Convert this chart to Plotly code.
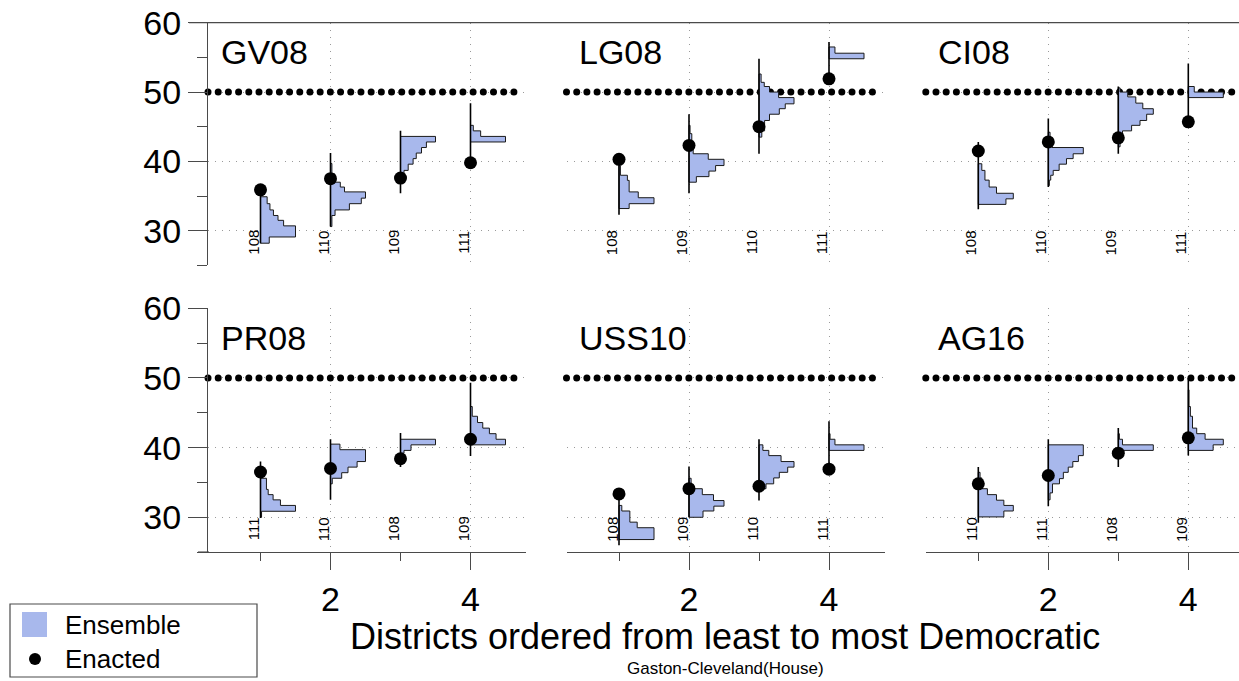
import numpy as np
import plotly.graph_objects as go

# ---------------- data ----------------
panel_names = ["GV08", "LG08", "CI08", "PR08", "USS10", "AG16"]
positions = [1, 2, 3, 4]
hist_scale = 0.5  # width (x units) of the tallest histogram bin

GV08_labels = ["108", "110", "109", "111"]
GV08_enacted = [35.9, 37.5, 37.6, 39.8]
GV08_lo = [28.2, 30.6, 35.4, 39.6]
GV08_hi = [35.5, 41.2, 44.4, 48.4]
GV08_edges = [[28.2, 29.1, 30.7, 31.5, 32.2, 33.0, 33.9, 34.9],
              [30.6, 32.2, 33.0, 33.9, 34.7, 35.6, 36.3, 37.0, 38.2, 39.7],
              [37.7, 38.7, 39.6, 40.4, 41.2, 42.0, 42.8, 43.6],
              [42.8, 43.6, 44.4, 45.2]]
GV08_heights = [[0.25, 1.0, 0.66, 0.5, 0.37, 0.27, 0.19],
                [0.04, 0.13, 0.54, 0.88, 1.0, 0.4, 0.28, 0.12, 0.04],
                [0.1, 0.22, 0.36, 0.45, 0.6, 0.74, 1.0],
                [1.0, 0.29, 0.08]]

LG08_labels = ["108", "109", "110", "111"]
LG08_enacted = [40.3, 42.3, 45.0, 51.9]
LG08_lo = [32.3, 35.4, 41.1, 51.5]
LG08_hi = [40.0, 46.8, 54.8, 57.2]
LG08_edges = [[33.2, 33.9, 34.76, 35.6, 37.26, 38.0, 39.4],
              [37.0, 37.8, 38.6, 39.4, 40.3, 41.1, 42.1, 44.0, 45.2],
              [43.5, 44.4, 45.9, 46.8, 47.6, 48.3, 49.2, 50.0, 50.8, 51.4, 52.6],
              [54.8, 55.6, 56.5]]
LG08_heights = [[0.29, 1.0, 0.55, 0.29, 0.24, 0.04],
                [0.21, 0.57, 0.76, 1.0, 0.55, 0.12, 0.08, 0.03],
                [0.08, 0.16, 0.3, 0.58, 0.75, 1.0, 0.56, 0.3, 0.15, 0.06],
                [1.0, 0.17]]

CI08_labels = ["108", "110", "109", "111"]
CI08_enacted = [41.5, 42.8, 43.4, 45.7]
CI08_lo = [33.1, 36.3, 41.1, 45.5]
CI08_hi = [42.8, 46.2, 50.8, 54.1]
CI08_edges = [[33.8, 34.6, 35.4, 36.3, 37.3, 38.7, 39.66],
              [36.5, 37.3, 38.0, 38.7, 39.6, 40.4, 41.1, 42.0, 42.8, 44.2],
              [42.1, 43.5, 44.4, 45.2, 45.9, 46.8, 47.6, 48.4, 49.3, 50.0, 50.6],
              [49.2, 50.0, 50.8]]
CI08_heights = [[0.79, 1.0, 0.52, 0.31, 0.19, 0.1],
                [0.03, 0.07, 0.14, 0.31, 0.52, 0.71, 1.0, 0.1, 0.05],
                [0.05, 0.12, 0.38, 0.62, 0.81, 1.0, 0.7, 0.5, 0.27, 0.05],
                [1.0, 0.17]]

PR08_labels = ["111", "110", "108", "109"]
PR08_enacted = [36.5, 37.0, 38.4, 41.2]
PR08_lo = [29.9, 32.5, 37.2, 38.8]
PR08_hi = [38.0, 41.2, 42.1, 49.3]
PR08_edges = [[30.0, 30.86, 31.7, 32.5, 33.25, 34.0, 35.6],
              [34.8, 35.6, 36.4, 37.2, 38.0, 39.7, 40.5],
              [39.2, 39.6, 40.4, 41.2],
              [40.4, 41.2, 42.0, 42.8, 43.6, 44.5, 45.9]]
PR08_heights = [[0.03, 1.0, 0.57, 0.36, 0.22, 0.17],
                [0.05, 0.32, 0.5, 0.76, 1.0, 0.27],
                [0.1, 0.3, 1.0],
                [1.0, 0.73, 0.54, 0.35, 0.2, 0.05]]

USS10_labels = ["108", "109", "110", "111"]
USS10_enacted = [33.35, 34.1, 34.45, 36.9]
USS10_lo = [26.0, 30.0, 32.4, 36.5]
USS10_hi = [33.0, 37.3, 41.2, 43.8]
USS10_edges = [[26.8, 28.5, 29.3, 30.9, 31.7],
               [30.0, 30.9, 31.6, 32.4, 33.25, 34.1, 35.6],
               [34.1, 34.8, 35.65, 36.45, 37.2, 38.0, 38.85, 39.6, 40.4],
               [39.6, 40.4, 41.2, 42.0]]
USS10_heights = [[1.0, 0.52, 0.31, 0.08],
                 [0.4, 0.71, 1.0, 0.7, 0.38, 0.06],
                 [0.2, 0.42, 0.58, 0.82, 1.0, 0.63, 0.28, 0.11],
                 [1.0, 0.17, 0.03]]

AG16_labels = ["110", "111", "108", "109"]
AG16_enacted = [34.8, 36.0, 39.2, 41.4]
AG16_lo = [29.2, 31.6, 37.2, 38.85]
AG16_hi = [37.2, 41.2, 42.8, 50.0]
AG16_edges = [[30.05, 30.9, 31.7, 32.45, 33.25, 34.1, 35.65, 36.45],
              [32.5, 33.5, 34.8, 35.55, 36.45, 37.2, 38.0, 38.85, 40.4],
              [39.6, 40.4, 41.2, 42.0],
              [39.6, 40.4, 41.2, 42.0, 42.8, 44.5, 45.9, 48.3]]
AG16_heights = [[0.73, 1.0, 0.73, 0.52, 0.26, 0.1, 0.05],
                [0.05, 0.12, 0.32, 0.43, 0.57, 0.7, 0.86, 1.0],
                [1.0, 0.12, 0.03],
                [0.71, 1.0, 0.48, 0.24, 0.12, 0.06, 0.02]]

threshold = 50
y_ticks = [30, 40, 50, 60]
y_minor = [25, 35, 45, 55]
x_ticks = [2, 4]
x_minor = [1, 3]
legend_labels = ["Ensemble", "Enacted"]
x_title = "Districts ordered from least to most Democratic"
subtitle = "Gaston-Cleveland(House)"

panels = [
    (GV08_labels, GV08_enacted, GV08_lo, GV08_hi, GV08_edges, GV08_heights),
    (LG08_labels, LG08_enacted, LG08_lo, LG08_hi, LG08_edges, LG08_heights),
    (CI08_labels, CI08_enacted, CI08_lo, CI08_hi, CI08_edges, CI08_heights),
    (PR08_labels, PR08_enacted, PR08_lo, PR08_hi, PR08_edges, PR08_heights),
    (USS10_labels, USS10_enacted, USS10_lo, USS10_hi, USS10_edges, USS10_heights),
    (AG16_labels, AG16_enacted, AG16_lo, AG16_hi, AG16_edges, AG16_heights),
]

# ---------------- layout geometry ----------------
W, H = 1239, 681
FONT = "Liberation Sans, Arial, Helvetica, sans-serif"
BLUE = "#a8b8ec"
AXC = "#4a4a4a"
GRIDC = "#9a9a9a"
col_left = [208, 566.5, 925.8]
panel_w = 318
ppu = 70.0
x_lo = 0.25
row_px = [(22.7, 265.4), (308.3, 552.1)]


def px(x):
    return x / W


def py(y):
    return 1 - y / H


fig = go.Figure()
layout = dict(width=W, height=H,
              margin=dict(l=0, r=0, t=0, b=0, pad=0, autoexpand=False),
              paper_bgcolor="white", plot_bgcolor="rgba(0,0,0,0)",
              showlegend=False, font=dict(family=FONT, color="black"))
annotations = []
shapes = []

for k, (labels, enacted, lo, hi, edges, heights) in enumerate(panels):
    r, c = divmod(k, 3)
    xa, ya = f"x{k + 1}", f"y{k + 1}"
    left = col_left[c]
    right = min(left + panel_w, W)
    xr = [x_lo, x_lo + (right - left) / ppu]
    top, bot = row_px[r]

    xax = dict(domain=[px(left), px(right)], range=xr, anchor=ya, automargin=False,
               tickvals=x_ticks, showgrid=True, gridcolor=GRIDC, griddash="1px,6px",
               gridwidth=1, zeroline=False, fixedrange=True)
    if r == 1:
        xax.update(showline=True, linecolor=AXC, linewidth=1.3, ticks="outside",
                   ticklen=17, tickwidth=1.3, tickcolor=AXC,
                   tickfont=dict(size=34, family=FONT),
                   minor=dict(tickmode="array", tickvals=x_minor, ticks="outside",
                              ticklen=8, tickwidth=1.3, tickcolor=AXC, showgrid=False))
    else:
        xax.update(showline=False, showticklabels=False, ticks="")
    yax = dict(domain=[py(bot), py(top)], range=[25, 60], anchor=xa, automargin=False,
               tickvals=y_ticks, showgrid=True, gridcolor=GRIDC, griddash="1px,6px",
               gridwidth=1, zeroline=False, fixedrange=True)
    if c == 0:
        yax.update(showline=True, linecolor=AXC, linewidth=1.3, ticks="outside",
                   ticklen=19, tickwidth=1.3, tickcolor=AXC,
                   tickfont=dict(size=34, family=FONT),
                   minor=dict(tickmode="array", tickvals=y_minor, ticks="outside",
                              ticklen=10, tickwidth=1.3, tickcolor=AXC, showgrid=False))
    else:
        yax.update(showline=False, showticklabels=False, ticks="")
    key = "" if k == 0 else str(k + 1)
    layout["xaxis" + key] = xax
    layout["yaxis" + key] = yax

    # 50% reference line (dotted, big dots)
    dots_x = np.linspace(x_lo, 4.62, 31)
    fig.add_trace(go.Scatter(x=dots_x, y=[threshold] * len(dots_x), mode="markers",
                             marker=dict(size=7, color="black"), cliponaxis=False,
                             xaxis=xa, yaxis=ya, hoverinfo="skip"))

    for i, pos in enumerate(positions):
        e = edges[i]
        h = heights[i]
        hx, hy = [pos], [e[0]]
        for j in range(len(h)):
            w = pos + hist_scale * h[j]
            hx += [w, w]
            hy += [e[j], e[j + 1]]
        hx += [pos, pos]
        hy += [e[-1], e[0]]
        fig.add_trace(go.Scatter(x=hx, y=hy, mode="lines", fill="toself",
                                 fillcolor=BLUE, line=dict(color="#1a1a1a", width=1),
                                 xaxis=xa, yaxis=ya, hoverinfo="skip"))
        fig.add_trace(go.Scatter(x=[pos, pos], y=[lo[i], hi[i]], mode="lines",
                                 line=dict(color="black", width=1.6),
                                 xaxis=xa, yaxis=ya, hoverinfo="skip"))
        annotations.append(dict(x=pos - 0.105, y=28.3, xref=xa, yref=ya,
                                text=labels[i], textangle=-90, showarrow=False,
                                font=dict(size=15, family=FONT),
                                xanchor="center", yanchor="middle"))
    fig.add_trace(go.Scatter(x=positions, y=enacted, mode="markers",
                             marker=dict(size=13, color="black"), cliponaxis=False,
                             xaxis=xa, yaxis=ya))
    annotations.append(dict(x=x_lo + 10.5 / ppu, y=55.8, xref=xa, yref=ya,
                            text=panel_names[k], showarrow=False,
                            font=dict(size=34, family=FONT),
                            xanchor="left", yanchor="middle"))

# top frame line of the upper row
shapes.append(dict(type="line", xref="paper", yref="paper", x0=px(189), x1=1.0,
                   y0=py(row_px[0][0]), y1=py(row_px[0][0]),
                   line=dict(color=AXC, width=1.3)))
# small left extension of the lower-left x axis line
shapes.append(dict(type="line", xref="paper", yref="paper", x0=px(198), x1=px(209),
                   y0=py(row_px[1][1]), y1=py(row_px[1][1]),
                   line=dict(color=AXC, width=1.3)))

# axis title and subtitle
annotations.append(dict(x=px(725), y=py(636), xref="paper", yref="paper", text=x_title,
                        showarrow=False, font=dict(size=36, family=FONT),
                        xanchor="center", yanchor="middle"))
annotations.append(dict(x=px(725), y=py(668), xref="paper", yref="paper", text=subtitle,
                        showarrow=False, font=dict(size=17, family=FONT),
                        xanchor="center", yanchor="middle"))

# legend (drawn manually)
shapes.append(dict(type="rect", xref="paper", yref="paper", x0=px(10), x1=px(257),
                   y0=py(677), y1=py(604), line=dict(color=AXC, width=1.2),
                   fillcolor="white"))
shapes.append(dict(type="rect", xref="paper", yref="paper", x0=px(22), x1=px(47),
                   y0=py(637), y1=py(612), line=dict(width=0), fillcolor=BLUE))
shapes.append(dict(type="circle", xref="paper", yref="paper", x0=px(29), x1=px(41),
                   y0=py(665), y1=py(653), line=dict(width=0), fillcolor="black"))
annotations.append(dict(x=px(63), y=py(625), xref="paper", yref="paper",
                        text=legend_labels[0], showarrow=False,
                        font=dict(size=26, family=FONT), xanchor="left", yanchor="middle"))
annotations.append(dict(x=px(63), y=py(659), xref="paper", yref="paper",
                        text=legend_labels[1], showarrow=False,
                        font=dict(size=26, family=FONT), xanchor="left", yanchor="middle"))

layout["annotations"] = annotations
layout["shapes"] = shapes
fig.update_layout(**layout)
fig.write_html("out.html", config={"displayModeBar": False},
               post_script="document.body.style.margin='0';document.body.style.padding='0';")
